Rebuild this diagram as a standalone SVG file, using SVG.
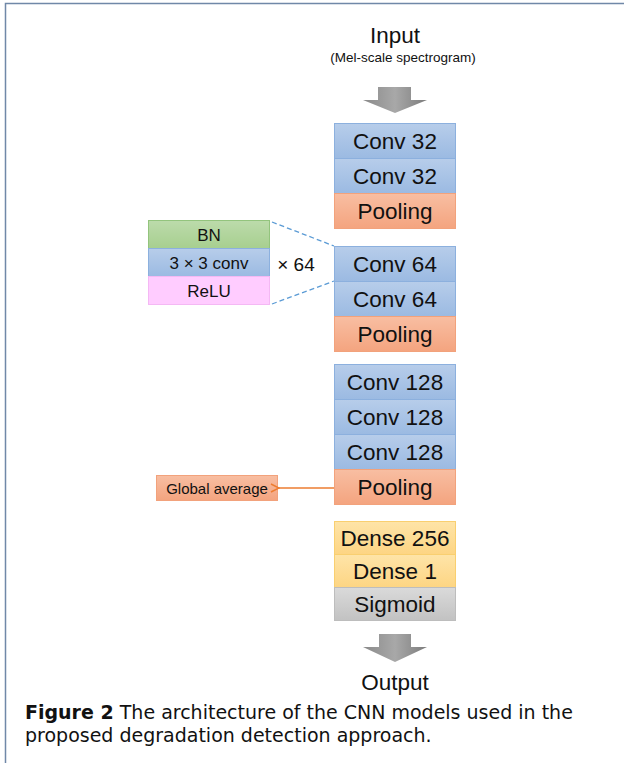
<svg xmlns="http://www.w3.org/2000/svg" width="624" height="763" viewBox="0 0 624 763">
<defs>
<linearGradient id="gBlue" x1="0" y1="0" x2="0" y2="1"><stop offset="0" stop-color="#b7cdea"/><stop offset="1" stop-color="#9bbae2"/></linearGradient>
<linearGradient id="gOrange" x1="0" y1="0" x2="0" y2="1"><stop offset="0" stop-color="#f8bea2"/><stop offset="1" stop-color="#f4a47f"/></linearGradient>
<linearGradient id="gYellow" x1="0" y1="0" x2="0" y2="1"><stop offset="0" stop-color="#fee4a8"/><stop offset="1" stop-color="#fdd583"/></linearGradient>
<linearGradient id="gGray" x1="0" y1="0" x2="0" y2="1"><stop offset="0" stop-color="#dadada"/><stop offset="1" stop-color="#c2c2c2"/></linearGradient>
<linearGradient id="gGreen" x1="0" y1="0" x2="0" y2="1"><stop offset="0" stop-color="#bcdbab"/><stop offset="1" stop-color="#a7cf8f"/></linearGradient>
<linearGradient id="gArrow" x1="0" y1="0" x2="1" y2="0"><stop offset="0" stop-color="#8a8a8a"/><stop offset="0.5" stop-color="#a8a8a8"/><stop offset="1" stop-color="#7c7c7c"/></linearGradient>
<marker id="mOpen" viewBox="0 0 10 10" refX="1" refY="5" markerWidth="10" markerHeight="10" markerUnits="userSpaceOnUse" orient="auto-start-reverse">
<path d="M9,1 L1,5 L9,9" fill="none" stroke="#ed7d31" stroke-width="1.5"/>
</marker>
<style>
.blue{fill:url(#gBlue);stroke:#8cb0de}
.org{fill:url(#gOrange);stroke:#f2a27c}
.yel{fill:url(#gYellow);stroke:#f9cf70}
.gry{fill:url(#gGray);stroke:#bdbdbd}
.grn{fill:url(#gGreen);stroke:#93c47d}
.pnk{fill:#ffccff;stroke:#f4b8f4}
.t{font-family:"Liberation Sans",Arial,sans-serif;font-size:22.5px;fill:#111;text-anchor:middle}
.s{font-family:"Liberation Sans",Arial,sans-serif;font-size:17px;fill:#111;text-anchor:middle}
.cap{font-family:"DejaVu Sans",sans-serif;font-size:19px;fill:#111}
</style>
</defs>
<rect width="624" height="763" fill="#fff"/>
<path d="M5.5,763 V3.5 H624" fill="none" stroke="#7088a8" stroke-width="1.5"/>

<g id="input">
<text class="t" x="395" y="43">Input</text>
<text x="403" y="62" font-family="Liberation Sans,Arial,sans-serif" font-size="13.5" text-anchor="middle" fill="#111">(Mel-scale spectrogram)</text>
<path d="M378,87 H411 V100 H427 L395,113 L363,100 H378 Z" fill="url(#gArrow)"/>
</g>

<g id="block1">
<rect class="blue" x="334.5" y="123.5" width="121" height="35"/><text class="t" x="395" y="149">Conv 32</text>
<rect class="blue" x="334.5" y="158.5" width="121" height="35"/><text class="t" x="395" y="184">Conv 32</text>
<rect class="org" x="334.5" y="193.5" width="121" height="35"/><text class="t" x="395" y="219">Pooling</text>
</g>

<g id="block2">
<rect class="blue" x="334.5" y="246.5" width="121" height="35"/><text class="t" x="395" y="272">Conv 64</text>
<rect class="blue" x="334.5" y="281.5" width="121" height="35"/><text class="t" x="395" y="307">Conv 64</text>
<rect class="org" x="334.5" y="316.5" width="121" height="35"/><text class="t" x="395" y="342">Pooling</text>
</g>

<g id="detail">
<rect class="grn" x="148.5" y="220.5" width="121" height="28"/><text class="s" x="209" y="240.5">BN</text>
<rect class="blue" x="148.5" y="248.5" width="121" height="28"/><text class="s" x="209" y="268.5">3 × 3 conv</text>
<rect class="pnk" x="148.5" y="276.5" width="121" height="28"/><text class="s" x="209" y="296.5">ReLU</text>
<text x="296" y="271" font-family="Liberation Sans,Arial,sans-serif" font-size="19" text-anchor="middle" fill="#111">× 64</text>
</g>

<g id="block3">
<rect class="blue" x="334.5" y="364.5" width="121" height="35"/><text class="t" x="395" y="390">Conv 128</text>
<rect class="blue" x="334.5" y="399.5" width="121" height="35"/><text class="t" x="395" y="425">Conv 128</text>
<rect class="blue" x="334.5" y="434.5" width="121" height="35"/><text class="t" x="395" y="460">Conv 128</text>
<rect class="org" x="334.5" y="469.5" width="121" height="35"/><text class="t" x="395" y="495">Pooling</text>
</g>

<g id="gap">
<rect class="org" x="156.5" y="475.5" width="121" height="25"/>
<text x="217" y="493.5" font-family="Liberation Sans,Arial,sans-serif" font-size="15" text-anchor="middle" fill="#111">Global average</text>
</g>

<g id="block4">
<rect class="yel" x="334.5" y="521.5" width="121" height="33"/><text class="t" x="395" y="546">Dense 256</text>
<rect class="yel" x="334.5" y="554.5" width="121" height="33"/><text class="t" x="395" y="579">Dense 1</text>
<rect class="gry" x="334.5" y="587.5" width="121" height="33"/><text class="t" x="395" y="612">Sigmoid</text>
</g>

<g id="output">
<path d="M379,634 H411 V647 H427 L395,662 L363,647 H379 Z" fill="url(#gArrow)"/>
<text class="t" x="395" y="690">Output</text>
</g>

<g id="connectors">
<line x1="272" y1="222" x2="334" y2="246" stroke="#5b9bd5" stroke-width="1.3" stroke-dasharray="5,3"/>
<line x1="272" y1="304" x2="334" y2="281" stroke="#5b9bd5" stroke-width="1.3" stroke-dasharray="5,3"/>
<line x1="334" y1="488" x2="279" y2="488" stroke="#ed7d31" stroke-width="1.3" marker-end="url(#mOpen)"/>
</g>

<g id="caption">
<text class="cap" x="25" y="719"><tspan font-weight="bold">Figure 2</tspan> The architecture of the CNN models used in the</text>
<text class="cap" x="25" y="742">proposed degradation detection approach.</text>
</g>
</svg>
